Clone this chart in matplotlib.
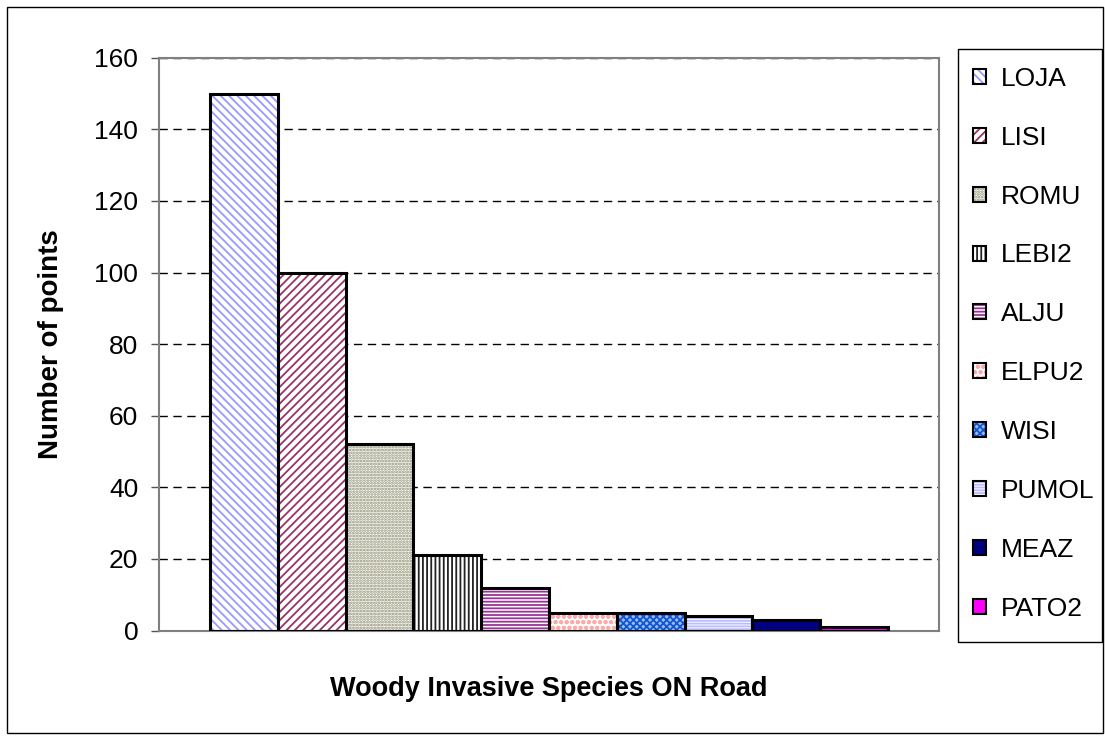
import numpy as np
import matplotlib.pyplot as plt
from matplotlib.patches import Patch, Rectangle
from matplotlib.legend_handler import HandlerTuple

species = ['LOJA', 'LISI', 'ROMU', 'LEBI2', 'ALJU', 'ELPU2', 'WISI', 'PUMOL', 'MEAZ', 'PATO2']
counts = [150, 100, 52, 21, 12, 5, 5, 4, 3, 1]
yticks = [0, 20, 40, 60, 80, 100, 120, 140, 160]

# fill look for each bar: face colour, hatch, hatch colour
faces = ['white', 'white', 'white', 'white', 'white', 'white', '#99bbff', 'white', '#000080', '#ff00ff']
hatches = ['\\\\\\\\', '////', '......', '||||', '-----', 'ooo', 'xxxxx', '------', '', '']
hcolors = ['#9999ff', '#993366', '#8a8a6a', '#222222', '#993399', '#ffaaaa', '#1155cc', '#bbbbff', '#000080', '#ff00ff']

plt.rcParams['font.family'] = ['Liberation Sans', 'DejaVu Sans']
plt.rcParams['hatch.linewidth'] = 1.3

W, H = 1105, 736
fig = plt.figure(figsize=(W/100, H/100), dpi=100)
ax = fig.add_axes([159/W, 1-630.5/H, (939-159)/W, (630.5-57.7)/H])

x = np.arange(len(species))
handles = []
for i in range(len(species)):
    ax.bar(x[i], counts[i], width=1.0, color=faces[i], hatch=hatches[i],
           edgecolor=hcolors[i], linewidth=0, zorder=2)
    ax.bar(x[i], counts[i], width=1.0, fill=False, edgecolor='black', linewidth=2.2, zorder=3)
    h1 = Patch(facecolor=faces[i], hatch=hatches[i], edgecolor=hcolors[i], linewidth=0)
    h2 = Patch(fill=False, edgecolor='black', linewidth=1.5)
    handles.append((h1, h2))

ax.set_xlim(-1.25, 10.25)
ax.set_ylim(0, 160)
ax.set_yticks(yticks)
ax.set_xticks([])
ax.tick_params(axis='y', labelsize=19, length=6, width=1, color='#555555', pad=9)
ax.yaxis.grid(True, linestyle=(0, (6, 4)), color='black', linewidth=1)
ax.set_axisbelow(True)
for s in ax.spines.values():
    s.set_color('#808080')
    s.set_linewidth(1.5)

ax.set_ylabel('Number of points', fontsize=20, fontweight='bold')
ax.yaxis.set_label_coords(-0.122, 0.5)
ax.set_xlabel('Woody Invasive Species ON Road', fontsize=19.5, fontweight='bold')
ax.xaxis.set_label_coords(0.5, -0.08)

# legend without its own frame; frame drawn separately
leg = fig.legend(handles, species, handler_map={tuple: HandlerTuple(ndivide=1)},
                 loc='upper left', bbox_to_anchor=(973/W, 1-67/H),
                 fontsize=19, handlelength=0.5, handleheight=0.5, handletextpad=0.55,
                 labelspacing=1.32, borderpad=0, borderaxespad=0, frameon=False)

fig.patches.append(Rectangle((958/W, 1-642/H), 144/W, 593/H, transform=fig.transFigure,
                             fill=False, edgecolor='black', linewidth=1))
fig.patches.append(Rectangle((7/W, 3/H), 1096/W, 726/H, transform=fig.transFigure,
                             fill=False, edgecolor='black', linewidth=1))

fig.savefig('out.png', dpi=100)
